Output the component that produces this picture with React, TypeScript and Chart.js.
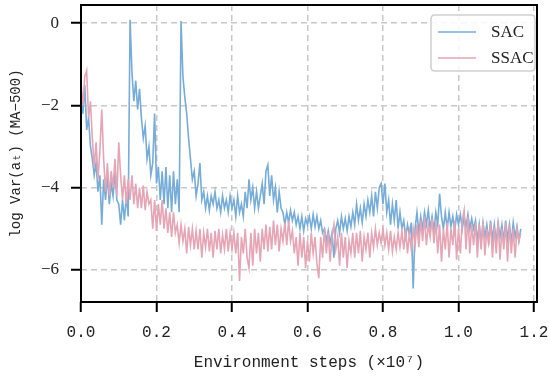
import React, { useEffect, useRef } from 'react';
import { Chart, registerables } from 'chart.js';

Chart.register(...registerables);

// sample spacing along x (in units of 1e7 environment steps)
const STEP = 0.005;

const sacValues = [
  -1.6, -2.2, -1.5, -2.6, -2.3, -3.0, -3.3, -3.7, -3.4, -4.1,
  -3.7, -4.9, -3.8, -4.3, -3.7, -4.4, -3.9, -4.2, -3.6, -4.3,
  -4.4, -4.9, -4.3, -4.8, -4.2, -4.7, 0.08, -1.2, -1.9, -1.4,
  -2.1, -1.6, -2.3, -2.8, -2.5, -3.3, -3.0, -3.7, -3.4, -2.2,
  -3.9, -3.5, -4.3, -3.6, -4.4, -3.5, -4.5, -3.7, -4.6, -3.6,
  -4.4, -3.8, -4.6, 0.05, -1.3, -1.8, -2.2, -2.8, -3.3, -3.8,
  -3.6, -4.2, -3.9, -3.4, -4.3, -4.1, -4.5, -4.2, -4.55, -4.2,
  -4.4, -4.1, -4.5, -4.3, -4.6, -4.2, -4.5, -4.3, -4.6, -4.2,
  -4.5, -4.3, -4.7, -4.2, -4.6, -4.4, -4.7, -4.1, -4.5, -3.8,
  -4.3, -4.0, -4.5, -4.1, -4.5, -4.2, -3.9, -4.4, -3.6, -3.45,
  -4.2, -3.7, -4.3, -4.0, -4.6, -4.1, -4.5, -4.6, -4.9, -4.6,
  -4.85, -4.55, -4.8, -4.6, -4.9, -4.7, -5.0, -4.7, -5.05, -4.75,
  -4.9, -4.7, -5.0, -4.65, -4.95, -4.7, -5.0, -4.8, -5.1, -5.0,
  -5.3, -5.05, -5.35, -5.1, -5.7, -5.0, -4.8, -5.1, -4.7, -5.0,
  -4.75, -5.05, -4.7, -4.95, -4.6, -4.9, -4.4, -4.8, -4.5, -4.85,
  -4.4, -4.7, -4.3, -4.6, -4.2, -4.7, -4.1, -4.5, -4.0, -3.9,
  -4.4, -3.9, -4.6, -4.3, -4.9, -4.4, -4.8, -4.3, -5.0, -4.6,
  -5.0, -4.8, -5.2, -4.9, -5.15, -4.85, -6.45, -5.0, -4.6, -5.1,
  -4.7, -5.0, -4.6, -4.9, -4.55, -5.0, -4.7, -5.05, -4.6, -4.9,
  -4.15, -4.7, -5.0, -4.6, -5.0, -4.6, -4.95, -4.7, -5.05, -4.65,
  -4.9, -4.65, -5.0, -4.7, -4.95, -4.65, -5.0, -4.75, -5.0, -4.8,
  -5.3, -4.9, -5.35, -4.85, -5.2, -4.9, -5.3, -4.8, -5.25, -4.9,
  -5.35, -4.85, -5.2, -4.9, -5.3, -4.8, -5.25, -4.9, -5.35, -4.85,
  -5.2, -4.95, -5.3, -5.0,
];

const ssacValues = [
  -1.45, -2.0, -1.3, -1.15, -2.3, -1.9, -2.8, -3.5, -2.9, -3.8,
  -3.1, -2.1, -3.3, -4.1, -3.4, -4.2, -3.6, -4.0, -3.3, -4.2,
  -2.9, -3.7, -4.3, -3.7, -4.4, -3.8, -4.3, -3.7, -4.4, -3.9,
  -4.5, -4.0, -4.5, -3.95, -4.55, -4.1, -4.4, -4.3, -5.0, -4.3,
  -5.05, -4.4, -4.9, -4.3, -5.0, -4.5, -5.1, -4.6, -5.2, -4.6,
  -5.1, -4.9, -5.35, -4.9, -5.3, -5.0, -5.6, -4.95, -5.4, -5.0,
  -5.5, -5.05, -5.5, -5.0, -5.7, -5.1, -5.45, -5.0, -5.55, -5.1,
  -5.7, -5.05, -5.5, -5.0, -5.6, -5.15, -5.5, -5.0, -5.55, -5.1,
  -5.5, -5.1, -5.6, -5.1, -6.27, -5.2, -5.6, -5.0, -5.7, -5.95,
  -5.1, -5.9, -5.0, -5.6, -5.1, -5.8, -5.0, -5.5, -4.9, -5.55,
  -4.95, -5.5, -4.8, -5.4, -4.9, -5.55, -5.0, -5.3, -4.85, -5.4,
  -4.8, -5.3, -5.05, -5.6, -5.2, -5.9, -5.1, -5.7, -5.2, -5.95,
  -5.3, -5.8, -5.1, -5.6, -5.2, -5.85, -6.2, -5.2, -5.7, -5.0,
  -5.6, -5.1, -5.8, -5.2, -4.9, -5.5, -5.2, -5.9, -5.1, -5.7,
  -5.2, -5.95, -5.3, -5.6, -5.1, -5.7, -5.1, -5.6, -5.05, -5.8,
  -5.2, -5.5, -5.1, -5.7, -5.1, -5.45, -5.0, -5.4, -5.1, -5.35,
  -5.0, -5.4, -5.1, -5.5, -5.05, -5.55, -5.2, -5.5, -5.1, -5.45,
  -5.05, -5.5, -5.0, -5.6, -5.1, -5.5, -5.0, -5.4, -4.9, -5.45,
  -4.8, -5.3, -4.7, -5.4, -4.9, -5.2, -4.75, -5.35, -4.8, -5.6,
  -4.9, -5.8, -5.0, -5.5, -4.85, -5.7, -5.0, -5.4, -4.8, -5.75,
  -5.0, -5.6, -4.8, -4.55, -5.5, -4.7, -5.6, -4.9, -5.4, -4.85,
  -5.7, -4.9, -5.5, -4.8, -5.65, -5.0, -5.4, -4.85, -5.7, -4.95,
  -5.6, -4.8, -5.75, -5.0, -5.5, -4.85, -5.8, -4.9, -5.6, -5.0,
  -5.7, -5.0, -5.3, -5.1,
];

const seriesLabels = ['SAC', 'SSAC'];
const seriesColors = ['#76acd8', '#e5a5b5'];

const xTicks = [0, 0.2, 0.4, 0.6, 0.8, 1.0, 1.2];
const xTickLabels = ['0.0', '0.2', '0.4', '0.6', '0.8', '1.0', '1.2'];
const yTicks = [0, -2, -4, -6];
const yTickLabels = ['0', '\u22122', '\u22124', '\u22126'];

const X_MIN = 0;
const X_MAX = 1.208;
const Y_MIN = -6.78;
const Y_MAX = 0.44;

const xTitle = 'Environment steps (\u00d710\u2077)';
const yTitle = 'log Var(a\u209c) (MA\u2212500)';

const toPoints = (vals: number[]) => vals.map((y, i) => ({ x: i * STEP, y }));

const labelFor = (ticks: number[], labels: string[], v: number) => {
  const i = ticks.findIndex((t) => Math.abs(t - v) < 1e-9);
  return i >= 0 ? labels[i] : '';
};

const frameLegendPlugin = {
  id: 'frameLegend',
  afterDraw(chart: any) {
    const { ctx, chartArea: a } = chart;
    ctx.save();
    ctx.strokeStyle = '#000';
    ctx.lineWidth = 2;
    ctx.strokeRect(a.left, a.top, a.right - a.left, a.bottom - a.top);

    // legend box
    const bw = 104;
    const bh = 56;
    const bx = a.right - 2 - bw;
    const by = a.top + 10;
    const r = 4;
    ctx.beginPath();
    ctx.moveTo(bx + r, by);
    ctx.lineTo(bx + bw - r, by);
    ctx.quadraticCurveTo(bx + bw, by, bx + bw, by + r);
    ctx.lineTo(bx + bw, by + bh - r);
    ctx.quadraticCurveTo(bx + bw, by + bh, bx + bw - r, by + bh);
    ctx.lineTo(bx + r, by + bh);
    ctx.quadraticCurveTo(bx, by + bh, bx, by + bh - r);
    ctx.lineTo(bx, by + r);
    ctx.quadraticCurveTo(bx, by, bx + r, by);
    ctx.closePath();
    ctx.fillStyle = 'rgba(255,255,255,0.85)';
    ctx.fill();
    ctx.strokeStyle = '#d0d0d0';
    ctx.lineWidth = 1.5;
    ctx.stroke();

    ctx.font = '17px "Liberation Serif", serif';
    ctx.textBaseline = 'middle';
    ctx.textAlign = 'left';
    seriesLabels.forEach((lab, i) => {
      const cy = by + 17 + i * 26;
      ctx.strokeStyle = seriesColors[i];
      ctx.lineWidth = 1.5;
      ctx.beginPath();
      ctx.moveTo(bx + 7, cy);
      ctx.lineTo(bx + 45, cy);
      ctx.stroke();
      ctx.fillStyle = '#222';
      ctx.fillText(lab, bx + 60, cy + 1);
    });
    ctx.restore();
  },
};

export default function App() {
  const canvasRef = useRef<HTMLCanvasElement | null>(null);

  useEffect(() => {
    if (!canvasRef.current) return;
    const gridColor = '#c8c8c8';
    const chart = new Chart(canvasRef.current, {
      type: 'line',
      data: {
        datasets: [
          {
            label: seriesLabels[0],
            data: toPoints(sacValues),
            borderColor: seriesColors[0],
            borderWidth: 1.6,
            pointRadius: 0,
            tension: 0,
            fill: false,
            order: 2,
          },
          {
            label: seriesLabels[1],
            data: toPoints(ssacValues),
            borderColor: seriesColors[1],
            borderWidth: 1.6,
            pointRadius: 0,
            tension: 0,
            fill: false,
            order: 1,
          },
        ],
      },
      options: {
        animation: false,
        responsive: false,
        devicePixelRatio: 1,
        layout: { padding: { left: 0, right: 13, top: 5, bottom: 0 } },
        plugins: {
          legend: { display: false },
          tooltip: { enabled: false },
        },
        scales: {
          x: {
            type: 'linear',
            min: X_MIN,
            max: X_MAX,
            afterBuildTicks: (scale: any) => {
              scale.ticks = xTicks.map((v) => ({ value: v }));
            },
            afterFit: (scale: any) => {
              scale.height = 78;
              scale.paddingLeft = 0;
              scale.paddingRight = 0;
            },
            ticks: {
              autoSkip: false,
              maxRotation: 0,
              padding: 11,
              color: '#222',
              font: { family: '"Liberation Mono", monospace', size: 16 },
              callback: (v: any) => labelFor(xTicks, xTickLabels, Number(v)),
            },
            grid: {
              color: gridColor,
              lineWidth: 1.5,
              drawTicks: true,
              tickLength: 10,
              tickColor: '#000',
              tickWidth: 2,
            },
            border: { display: false, dash: [6, 4] },
            title: {
              display: true,
              text: xTitle,
              color: '#222',
              font: { family: '"Liberation Mono", monospace', size: 16 },
              padding: { top: 0, bottom: 8 },
            },
          },
          y: {
            type: 'linear',
            min: Y_MIN,
            max: Y_MAX,
            afterBuildTicks: (scale: any) => {
              scale.ticks = yTicks.map((v) => ({ value: v }));
            },
            afterFit: (scale: any) => {
              scale.width = 81;
              scale.paddingTop = 0;
              scale.paddingBottom = 0;
            },
            ticks: {
              padding: 12,
              color: '#222',
              font: { family: '"Liberation Serif", serif', size: 17 },
              callback: (v: any) => labelFor(yTicks, yTickLabels, Number(v)),
            },
            grid: {
              color: gridColor,
              lineWidth: 1.5,
              drawTicks: true,
              tickLength: 10,
              tickColor: '#000',
              tickWidth: 2,
            },
            border: { display: false, dash: [6, 4] },
            title: {
              display: true,
              text: yTitle,
              color: '#222',
              font: { family: '"Liberation Mono", monospace', size: 14 },
              padding: { top: 8, bottom: 0 },
            },
          },
        },
      },
      plugins: [frameLegendPlugin],
    } as any);
    return () => chart.destroy();
  }, []);

  return (
    <div style={{ position: 'fixed', left: 0, top: 0, width: 550, height: 380, background: '#fff' }}>
      <canvas ref={canvasRef} width={550} height={380} style={{ width: 550, height: 380, display: 'block' }} />
    </div>
  );
}
